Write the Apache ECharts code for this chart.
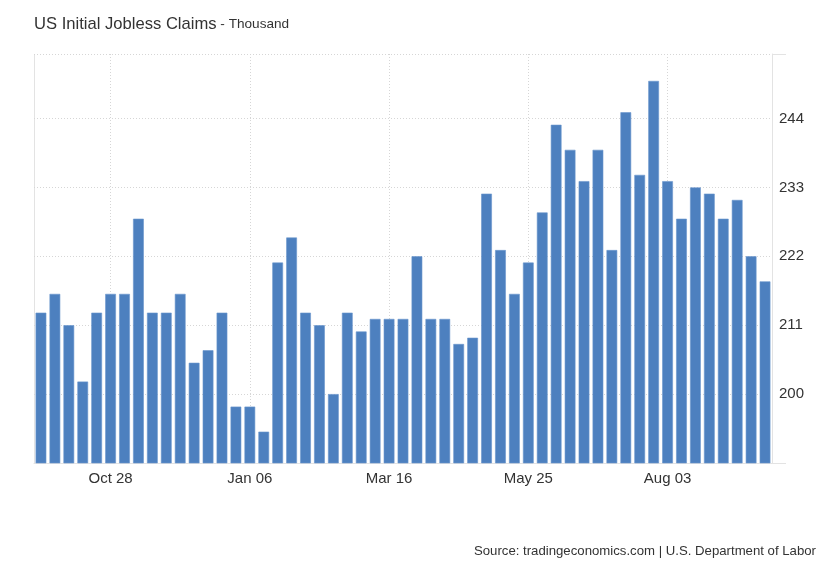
<!DOCTYPE html>
<html>
<head>
<meta charset="utf-8">
<script src="https://cdn.jsdelivr.net/npm/echarts@6/dist/echarts.min.js"></script>
<style>
html,body{margin:0;padding:0;background:#fff;}
#chart{width:830px;height:567px;}
</style>
</head>
<body>
<div id="chart"></div>
<script>
const categories = ['Sep 23','Sep 30','Oct 07','Oct 14','Oct 21','Oct 28','Nov 04','Nov 11','Nov 18','Nov 25',
  'Dec 02','Dec 09','Dec 16','Dec 23','Dec 30','Jan 06','Jan 13','Jan 20','Jan 27','Feb 03',
  'Feb 10','Feb 17','Feb 24','Mar 02','Mar 09','Mar 16','Mar 23','Mar 30','Apr 06','Apr 13',
  'Apr 20','Apr 27','May 04','May 11','May 18','May 25','Jun 01','Jun 08','Jun 15','Jun 22',
  'Jun 29','Jul 06','Jul 13','Jul 20','Jul 27','Aug 03','Aug 10','Aug 17','Aug 24','Aug 31',
  'Sep 07','Sep 14','Sep 21'];
const claims = [213,216,211,202,213,216,216,228,213,213,
  216,205,207,213,198,198,194,221,225,213,
  211,200,213,210,212,212,212,222,212,212,
  208,209,232,223,216,221,229,243,239,234,
  239,223,245,235,250,234,228,233,232,228,
  231,222,218];
const yTicks = [200,211,222,233,244];
const xLabels = ['Oct 28','Jan 06','Mar 16','May 25','Aug 03'];

const chart = echarts.init(document.getElementById('chart'));
const FONT = '"Liberation Sans", Arial, sans-serif';
chart.setOption({
  animation:false,
  textStyle:{fontFamily:FONT},
  title:{
    left:29, top:11,
    text:'{a|US Initial Jobless Claims}{b| - Thousand}',
    textStyle:{fontWeight:'normal', rich:{
      a:{fontSize:16.6,color:'#333',fontFamily:FONT,fontWeight:'normal'},
      b:{fontSize:13.6,color:'#333',fontFamily:FONT,fontWeight:'normal'}
    }}
  },
  grid:{left:34, right:58, top:54, height:409, containLabel:false},
  xAxis:{
    type:'category', data:categories,
    boundaryGap:true,
    axisLine:{show:true,lineStyle:{color:'#e3e3e3',width:1}},
    axisTick:{show:false,alignWithLabel:true},
    axisLabel:{
      interval:(i,v)=>xLabels.indexOf(v)>=0,
      color:'#333', fontSize:15, margin:8, fontFamily:FONT
    },
    splitLine:{show:false}
  },
  yAxis:{
    type:'value', position:'right',
    min:189, max:254.3,
    axisLine:{show:true,lineStyle:{color:'#e3e3e3',width:1}},
    axisTick:{show:false, customValues:yTicks},
    axisLabel:{customValues:yTicks, color:'#333', fontSize:15, margin:7, fontFamily:FONT},
    splitLine:{show:true, lineStyle:{color:'#d6d6d6',type:[1,2],width:1}}
  },
  series:[{
    type:'bar', data:claims,
    barCategoryGap:'23%',
    itemStyle:{color:'#4d80bf', borderColor:'#6a95cc', borderWidth:0.6},
    markLine:{
      silent:true, symbol:['none','none'], z:0,
      label:{show:false},
      lineStyle:{color:'#d6d6d6',type:[1,2],width:1},
      emphasis:{disabled:true},
      data:xLabels.map(v=>({xAxis:v}))
    }
  }],
  graphic:[
    {type:'line', shape:{x1:34.5,y1:54,x2:34.5,y2:463}, style:{stroke:'#e3e3e3',lineWidth:1}},
    {type:'line', shape:{x1:34,y1:54.5,x2:772,y2:54.5}, style:{stroke:'#d6d6d6',lineWidth:1,lineDash:[1,2]}},
    {type:'line', shape:{x1:772,y1:54.5,x2:786,y2:54.5}, style:{stroke:'#e3e3e3',lineWidth:1}},
    {type:'line', shape:{x1:772,y1:463.5,x2:786,y2:463.5}, style:{stroke:'#e3e3e3',lineWidth:1}},
    {type:'text', right:14, top:545, style:{text:'Source: tradingeconomics.com | U.S. Department of Labor', fill:'#333', font:'13.2px "Liberation Sans", Arial, sans-serif'}}
  ]
});
</script>
</body>
</html>
